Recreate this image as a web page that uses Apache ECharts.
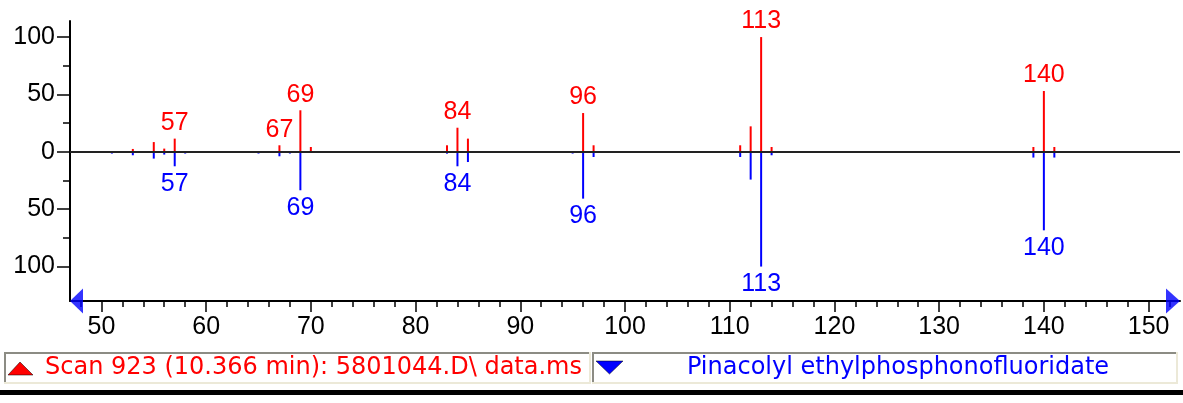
<!DOCTYPE html>
<html>
<head>
<meta charset="utf-8">
<script src="https://cdn.jsdelivr.net/npm/echarts@6/dist/echarts.min.js"></script>
<style>
  html, body { margin: 0; padding: 0; background: #fff; }
  #chart { width: 1183px; height: 403px; }
</style>
</head>
<body>
<div id="chart"></div>
<script>
// m/z and abundance
const sampleMz = [53, 55, 56, 57, 67, 69, 70, 83, 84, 85, 96, 97, 111, 112, 113, 114, 139, 140, 141]
const sampleAbund = [2.5, 8.5, 2.8, 11.5, 5.7, 36.2, 4.2, 5.7, 21, 11.5, 33.8, 5.7, 5.7, 22.2, 100, 4.2, 4.2, 53, 4.2]
const libMz = [51, 53, 55, 56, 57, 58, 65, 67, 68, 69, 70, 83, 84, 85, 95, 96, 97, 111, 112, 113, 114, 139, 140, 141]
const libAbund = [1.5, 3, 5.9, 2.4, 12.6, 1.5, 1.5, 3.9, 1.5, 33.5, 1, 1.6, 12.6, 8.9, 1.5, 40.8, 4.5, 4.5, 24.2, 100, 3, 5, 68.4, 5]
const sampleLabels = [57, 67, 69, 84, 96, 113, 140]
const libLabels = [57, 69, 84, 96, 113, 140]
const xMajorTicks = [50, 60, 70, 80, 90, 100, 110, 120, 130, 140, 150]
const yMajorTicks = [-100, -50, 0, 50, 100]
const yMinorTicks = [-75, -25, 25, 75]
const sampleName = 'Scan 923 (10.366 min): 5801044.D\\ data.ms'
const libName = 'Pinacolyl ethylphosphonofluoridate'

const xMin = 47
const xMax = 153
const yMin = -130
const yMax = 114

const xMinorTicks = []
for (let v = 48; v <= 152; v += 2) {
  if (v % 10 !== 0) xMinorTicks.push(v)
}

const FONT = '"Liberation Sans", Arial, sans-serif'
const LEGEND_FONT = '24px "DejaVu Sans", "Liberation Sans", sans-serif'
const RED = '#ff0000'
const BLUE = '#0000ff'

const redData = sampleMz.map((mz, i) => ({
  value: [mz, sampleAbund[i]],
  label: { show: sampleLabels.includes(mz) }
}))
const blueData = libMz.map((mz, i) => ({
  value: [mz, -libAbund[i]],
  label: { show: libLabels.includes(mz) }
}))

const chart = echarts.init(document.getElementById('chart'), null, { renderer: 'canvas' })

// sunken box behind each legend entry
const legendBox = (x, w) => [
  { type: 'rect', shape: { x: x, y: 352, width: w, height: 32 }, style: { fill: '#fff', stroke: null } },
  { type: 'line', shape: { x1: x, y1: 353, x2: x + w, y2: 353 }, style: { stroke: '#8c8c84', lineWidth: 2 } },
  { type: 'line', shape: { x1: x + 1, y1: 352, x2: x + 1, y2: 384 }, style: { stroke: '#8c8c84', lineWidth: 2 } },
  { type: 'line', shape: { x1: x, y1: 383, x2: x + w, y2: 383 }, style: { stroke: '#ece9d8', lineWidth: 2 } },
  { type: 'line', shape: { x1: x + w - 1, y1: 352, x2: x + w - 1, y2: 384 }, style: { stroke: '#ece9d8', lineWidth: 2 } }
]

const option = {
  backgroundColor: '#fff',
  animation: false,
  textStyle: { fontFamily: FONT },
  grid: { left: 70, right: 3, top: 21, bottom: 102, containLabel: false },
  xAxis: [
    {
      type: 'value', min: xMin, max: xMax, position: 'bottom',
      axisLine: { onZero: false, lineStyle: { color: '#000', width: 2 } },
      axisTick: { customValues: xMajorTicks, length: 11, lineStyle: { color: '#000', width: 1.5 } },
      axisLabel: { customValues: xMajorTicks, fontSize: 25, color: '#000', margin: 14, fontFamily: FONT },
      splitLine: { show: false }
    },
    {
      type: 'value', min: xMin, max: xMax, position: 'bottom',
      axisLine: { show: false, onZero: false },
      axisTick: { customValues: xMinorTicks, length: 6, lineStyle: { color: '#000', width: 1.5 } },
      axisLabel: { show: false },
      splitLine: { show: false }
    }
  ],
  yAxis: [
    {
      type: 'value', min: yMin, max: yMax, position: 'left',
      axisLine: { show: true, onZero: false, lineStyle: { color: '#000', width: 2 } },
      axisTick: { show: true, customValues: yMajorTicks, length: 13, lineStyle: { color: '#000', width: 1.5 } },
      axisLabel: {
        customValues: yMajorTicks, fontSize: 25, color: '#000', margin: 15, fontFamily: FONT,
        formatter: v => String(Math.abs(v))
      },
      splitLine: { show: false }
    },
    {
      type: 'value', min: yMin, max: yMax, position: 'left',
      axisLine: { show: false, onZero: false },
      axisTick: { show: true, customValues: yMinorTicks, length: 7, lineStyle: { color: '#000', width: 1.5 } },
      axisLabel: { show: false },
      splitLine: { show: false }
    }
  ],
  series: [
    {
      name: sampleName,
      type: 'bar',
      xAxisIndex: 0,
      yAxisIndex: 0,
      barWidth: 2,
      barGap: '-100%',
      itemStyle: { color: RED },
      label: {
        position: 'top', distance: 3, color: RED, fontSize: 25, fontFamily: FONT,
        formatter: p => String(p.value[0])
      },
      data: redData,
      markLine: {
        silent: true,
        symbol: 'none',
        label: { show: false },
        lineStyle: { color: '#222', width: 2, type: 'solid' },
        data: [{ yAxis: 0 }]
      }
    },
    {
      name: libName,
      type: 'bar',
      xAxisIndex: 0,
      yAxisIndex: 0,
      barWidth: 2,
      barGap: '-100%',
      itemStyle: { color: BLUE },
      label: {
        position: 'bottom', distance: 5, color: BLUE, fontSize: 25, fontFamily: FONT,
        formatter: p => String(p.value[0])
      },
      data: blueData
    },
    {
      // blue arrow heads at both ends of the m/z axis
      type: 'scatter',
      xAxisIndex: 0,
      yAxisIndex: 0,
      clip: false,
      silent: true,
      itemStyle: { color: BLUE },
      data: [
        { value: [xMin, yMin], symbol: 'path://M0,0 L1,-1 L1,1 Z', symbolSize: [13, 25], symbolOffset: [6.5, 0] },
        { value: [xMax, yMin], symbol: 'path://M1,0 L0,-1 L0,1 Z', symbolSize: [14, 25], symbolOffset: [-7, 0] }
      ],
      z: 5
    }
  ],
  graphic: [
    ...legendBox(4, 587),
    ...legendBox(592, 586),
    { type: 'polygon', shape: { points: [[8, 375], [20, 362], [33, 375]] }, style: { fill: RED, stroke: '#000', lineWidth: 0.5 } },
    { type: 'text', x: 45, y: 368, style: { text: sampleName, fill: RED, font: LEGEND_FONT, textVerticalAlign: 'middle' } },
    { type: 'polygon', shape: { points: [[596, 361], [623, 361], [609.5, 374]] }, style: { fill: BLUE, stroke: '#000', lineWidth: 0.5 } },
    { type: 'text', x: 898, y: 368, style: { text: libName, fill: BLUE, font: LEGEND_FONT, textAlign: 'center', textVerticalAlign: 'middle' } },
    { type: 'rect', shape: { x: 0, y: 390, width: 1183, height: 5 }, style: { fill: '#000' } }
  ]
}

chart.setOption(option)
</script>
</body>
</html>
